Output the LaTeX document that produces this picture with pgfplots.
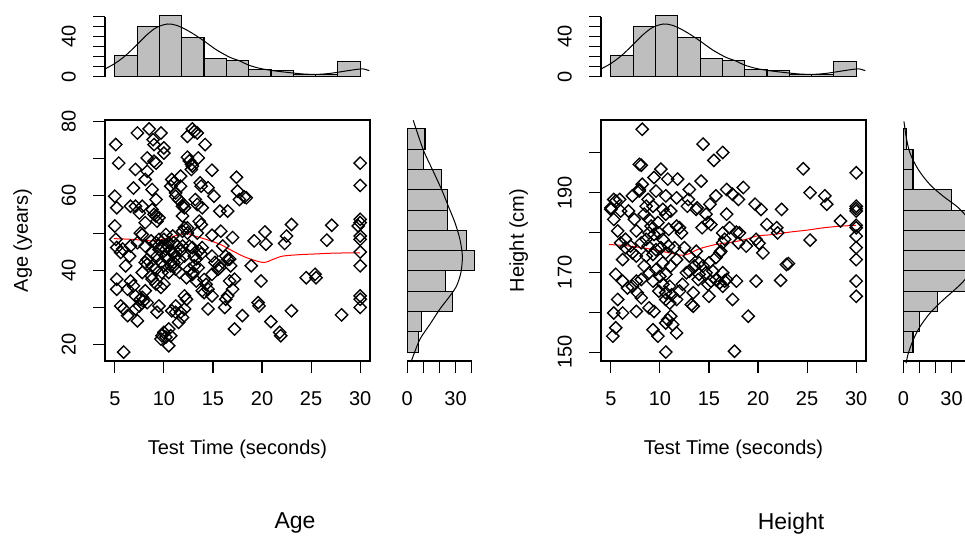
\documentclass[border=0pt]{standalone}
\usepackage{fontspec}
\setmainfont{Liberation Sans}
\usepackage{pgfplots}
\usepackage{pgfplotstable}
\pgfplotsset{compat=1.18}
\definecolor{histgrey}{HTML}{BEBEBE}

\pgfplotsset{
  rbase/.style={scale only axis, clip=false, tick align=outside, major tick length=12pt,
    axis line style={-, line width=1.1pt}, tick style={black, line width=1.1pt},
    tick label style={font=\fontsize{20}{24}\selectfont, inner sep=0pt},
    /pgf/number format/assume math mode=true,
    xticklabel style={anchor=north}, xticklabel shift=18.5pt,
    yticklabel style={rotate=90, anchor=south}, yticklabel shift=17pt,
    label style={font=\fontsize{20}{24}\selectfont}},
  noarrow/.style={tick align=outside,
    every outer x axis line/.append style={-}, every outer y axis line/.append style={-},
    x axis line style={-}, y axis line style={-}},
  hist/.style={fill=histgrey, draw=black, line width=1.1pt},
  dens/.style={black, line width=1pt, smooth},
  dots/.style={only marks, black, mark=square, mark size=4.35pt,
    mark options={rotate=45, line width=1.35pt}},
}

% test time histogram (11 bins, 5 to 30)
\pgfplotstableread{
lo cnt
5.0000 21
7.2727 50
9.5455 61
11.8182 39
14.0909 18
16.3636 16
18.6364 7
20.9091 6
23.1818 2
25.4545 2
27.7273 15
30.0000 15
}\timehist

\pgfplotstableread{
x y
4.00 7.7
5.02 13.3
6.04 20.7
7.23 31.7
8.25 41.7
9.26 49.3
10.38 52.7
11.30 51.3
12.32 46.7
13.34 40.7
14.19 35.0
15.38 26.7
16.74 19.3
17.75 15.7
18.60 11.7
19.79 8.3
21.15 6.0
22.85 4.0
24.20 2.7
25.57 2.3
26.92 3.3
28.28 5.3
29.64 7.3
30.32 7.7
30.93 6.0
}\timedens

\begin{document}
\begin{tikzpicture}
\useasboundingbox (0,0) rectangle (965pt,535pt);
\clip (0,0) rectangle (965pt,535pt);

% ---------- Age panel ----------
\begin{axis}[rbase, at={(105pt,174pt)}, anchor=south west, width=265pt, height=241pt,
  xmin=4, xmax=31, ymin=15.6, ymax=80.4,
  xtick={5,10,...,30}, ytick={20,30,...,80}, yticklabels={20,,40,,60,,80},
  xtick pos=bottom, ytick pos=left,
  xlabel={Test Time (seconds)}, xlabel style={at={(axis description cs:0.5,-0.368)}, anchor=center},
  ylabel={Age (years)}, ylabel style={at={(axis description cs:-0.311,0.5)}, anchor=center}]
\addplot[dots] coordinates {
(30,68.8) (30,62.8) (30,53.7) (30,52.8) (29.8,51.9) (30,49.2) (30,48.3) (30,44.9) (30,41.2) (30,33.1) (30,32.2) (30,30.0)
(28.1,28.0) (26.6,48.1) (27.1,52.1)
(23.0,52.3) (22.5,49.2) (22.3,47.2) (23.0,29.1) (21.8,23.3) (21.9,22.4) (20.9,26.2) (20.3,50.3) (20.4,47.0) (19.9,37.1) (19.2,47.9) (19.6,31.3) (19.7,30.4) (18.9,41.2)
(24.5,38.0) (25.4,38.9) (25.5,38.0)
(18.4,59.5) (18.2,59.7) (17.7,59.0) (17.4,65) (17.5,61.3) (17.2,24.2) (18.0,27.8) (17.0,34.9) (16.7,37.1) (16.7,43.0) (16.8,41.2) (16.5,33.1) (16.3,32.2) (16.2,30.0) (17.0,48.8) (16.0,46.5) (15.8,50.5) (15.7,55.9) (16.5,55.9) (15.7,40.7) (15.5,40.2) (14.9,66.9) (15.1,59.9) (14.9,49.4) (14.9,33.1) (14.5,29.6) (14.9,38.9) (14.3,36.2) (14.5,34.9) (14.1,34.0) (14.1,37.5) (13.9,34.5) (13.8,44.4) (13.7,63.5) (13.8,62.6) (14.5,62.2) (13.8,52.3) (13.6,53.2) (13.9,56.8) (13.4,57.7) (13.5,70.2) (14.2,73.8) (13.2,59.0) (13.1,41.2) (12.9,46.1) (13.1,43.8) (12.9,38.9) (12.6,40.2) (12.6,46.5) (12.4,50.0) (12.4,51.4) (12.1,51.4) (13.4,50.0) (12.3,38.0) (12.1,29.6) (12.6,69.4) (12.8,68.5) (12.9,68.0) (12.9,78.0) (13.1,77.3) (13.4,76.9) (12.4,76.0) (12.4,70.4) (12.8,67.1)
(11.7,65.3) (11.9,57.2) (12.0,57.7) (11.5,59.0) (11.2,60.8) (11.7,62.6) (11.0,63.5) (10.8,64.4) (10.7,62.6) (11.2,59.9) (12.1,56.8) (11.9,54.6) (12.1,33.1) (12.3,32.2) (11.7,28.7) (11.9,27.3) (11.2,30.4) (11.2,28.7) (11.5,26.0) (10.8,29.1) (10.7,22.4) (10.5,19.7) (10.2,22.0) (9.7,21.5) (9.8,22.4) (10.0,23.3) (10.5,24.2)
(9.5,48.3) (9.8,46.5) (10.2,45.6) (10.5,47.4) (10.9,44.7) (11.2,43.8) (10.4,42.9) (10.0,41.2) (9.7,42.1) (10.7,41.2) (11.0,42.1) (11.6,42.9) (11.9,46.5) (10.2,49.6) (10.9,49.2) (9.2,47.4) (8.8,44.7) (9.8,39.4) (10.5,39.4) (11.2,40.3) (11.6,39.4) (9.3,43.8) (10.2,43.8) (10.7,45.2) (11.7,45.2) (11.4,46.5) (12.1,43.8) (9.5,45.6) (10.4,46.5) (10.0,48.3) (11.0,47.4) (11.9,50.5) (8.8,41.2) (9.2,40.3) (8.3,42.9) (8.1,46.5) (8.7,47.9)
(5.1,73.8) (5.4,68.8) (5.0,59.9) (5.2,56.8) (5.0,51.9) (5.1,48.3) (5.2,46.1) (5.8,45.7) (5.6,44.8) (5.2,37.6) (5.2,34.9) (6.3,34.9) (5.9,18.0) (5.6,30.4) (5.9,29.6) (6.3,27.8) (6.9,35.8) (6.6,37.1) (6.1,41.2) (6.5,43.8) (6.6,46.5) (7.3,76.9) (7.1,67.1) (6.9,62.1) (6.6,57.2) (7.1,57.2) (7.3,26.4) (7.6,32.2) (7.8,32.7) (7.9,31.7) (8.3,31.3) (7.5,30.4) (7.1,29.6) (8.5,78.0) (8.9,75.1) (9.0,73.8) (8.3,70.2) (9.0,69.3) (9.2,68.8) (8.3,66.6) (8.1,64.4) (8.8,61.7) (9.2,59.0) (7.8,57.2) (7.5,55.4) (8.8,56.3) (9.0,55.0) (9.2,54.6) (9.5,54.1) (9.3,53.2) (8.1,52.8) (7.6,50.0) (7.8,49.6) (7.3,47.4) (8.1,42.1) (8.3,41.6) (8.7,38.5) (8.8,37.6) (7.8,39.4) (7.1,33.1) (8.1,34.5) (9.2,36.3) (9.7,35.4) (10.0,36.3) (9.5,30.4) (9.3,28.7) (10.0,71.5) (9.7,76.9) (10.0,72.9)
(14.9,43.8) (15.2,42.1) (15.6,41.2) (16.3,43.8) (16.5,42.9) (17.2,37.6) (13.6,45.2) (13.9,46.1) (13.3,43.0) (13.5,40.7) (13.0,39.4) (13.3,37.1)
};
\addplot[red, line width=1pt, smooth] coordinates {
(4.9,48.5) (6.8,48.3) (8.8,47.9) (10.2,48.5) (11.6,49.6) (12.4,49.9) (12.9,49.4) (14.3,48.3) (15.7,47.0) (17.0,45.2) (18.4,43.4) (20.1,42.1) (21.1,42.9) (22.1,43.8) (23.9,44.2) (25.6,44.4) (27.3,44.6) (30.0,44.7)
};
\end{axis}

\begin{axis}[rbase, at={(105pt,458.3pt)}, anchor=south west, width=265pt, height=60pt,
  xmin=4, xmax=31, ymin=0, ymax=60, axis x line=none, axis y line=left, noarrow,
  ytick={0,10,...,60}, yticklabels={0,,,,40,,}]
\addplot[hist, ybar interval] table[x=lo, y=cnt] {\timehist};
\addplot[dens] table[x=x, y=y] {\timedens};
\end{axis}

\begin{axis}[rbase, at={(407.3pt,174pt)}, anchor=south west, width=64.4pt, height=241pt,
  xmin=0, xmax=40, ymin=15.6, ymax=80.4, axis y line=none, axis x line=bottom, noarrow,
  xtick={0,10,...,40}, xticklabels={0,,,30,}]
\addplot[hist, xbar interval] coordinates {
(7,18) (9,23.4545) (28,28.9091) (24,34.3636) (42,39.8182) (37,45.2727) (25,50.7273) (25,56.1818) (21,61.6364) (10,67.0909) (11,72.5455) (11,78)
};
\addplot[dens] coordinates {
(2.3,15.3) (3.7,17.0) (7.9,21.5) (14.1,25.5) (20.3,29.6) (26.5,33.1) (30.6,35.8) (33.3,39.4) (34.2,43.8) (32.7,48.3) (29.6,52.8) (25.5,57.2) (21.3,61.7) (16.1,66.6) (9.9,72.4) (3.7,80.3)
};
\end{axis}

% ---------- Height panel ----------
\begin{axis}[rbase, at={(601pt,174pt)}, anchor=south west, width=265pt, height=241pt,
  xmin=4, xmax=31, ymin=147.76, ymax=208.24,
  xtick={5,10,...,30}, ytick={150,160,...,200}, yticklabels={150,,170,,190,},
  xtick pos=bottom, ytick pos=left,
  xlabel={Test Time (seconds)}, xlabel style={at={(axis description cs:0.5,-0.368)}, anchor=center},
  ylabel={Height (cm)}, ylabel style={at={(axis description cs:-0.311,0.5)}, anchor=center}]
\addplot[dots] coordinates {
(30,195.0) (30,186.6) (30,186.0) (30,185.4) (30,181.8) (30,181.2) (30,179.1) (30,176.2) (30,173.2) (30,167.8) (30,164.0)
(28.4,182.9) (27.0,187.1) (26.8,189.2) (25.3,190.0) (24.6,196.0) (25.3,178.1)
(23.1,172.2) (22.9,172.0) (22.3,168.0) (22.4,185.8) (21.9,181.2) (22.0,179.9) (20.9,182.0) (20.5,174.9) (19.8,178.3) (20.1,177.3) (20.3,185.8) (19.7,187.1) (19.8,167.8) (19.0,159.0) (18.5,191.3) (18.0,188.3) (17.4,189.6) (16.8,190.8) (16.4,200.1) (15.5,198.1) (14.4,202.2) (15.7,189.2) (15.1,187.1) (15.2,182.0) (14.3,181.2) (13.8,186.2) (13.0,190.8) (14.2,192.9) (11.8,193.4)
(16.8,184.6) (17.1,181.2) (16.4,179.9) (16.6,178.3) (17.8,180.1) (18.1,179.9) (16.1,174.9) (16.2,175.3) (15.7,173.7) (16.4,169.9) (16.6,167.8) (16.8,168.2) (17.8,167.8) (17.4,163.2) (17.6,150.2)
(15.0,172.4) (15.4,170.3) (14.7,169.9) (14.9,167.0) (15.0,164.0) (14.4,171.6) (14.0,172.4) (13.9,168.2) (13.4,164.9) (13.2,161.9) (13.4,161.5) (13.7,175.3) (13.0,174.1) (12.7,169.9) (12.3,167.0) (12.0,165.3) (11.7,163.2) (12.0,181.2) (12.2,179.9) (11.7,181.6) (11.5,176.2) (12.5,176.2) (11.7,173.2) (12.8,186.6) (12.9,188.3)
(7.9,197.1) (8.1,196.9) (10.1,195.9) (9.4,193.8) (10.8,193.4) (7.9,190.4) (9.6,190.4) (10.6,189.2) (11.7,188.7) (8.8,188.3) (8.6,186.6) (9.3,186.6) (10.3,185.8) (10.6,184.6) (11.1,185.4) (8.4,184.6) (8.9,183.3) (9.8,182.5) (9.1,181.6) (8.9,179.9) (9.4,179.5) (9.9,179.9) (10.9,180.8) (10.3,178.3) (8.6,178.3) (8.1,177.4) (8.8,176.6) (9.6,175.7) (10.1,176.2) (10.9,176.6) (10.6,174.9) (9.3,174.5) (8.6,174.1) (8.4,171.6) (9.6,170.7) (10.3,172.4) (11.1,171.6) (8.9,169.9) (10.0,169.0) (10.6,169.5) (9.3,167.8) (10.3,167.0) (11.0,166.5) (9.9,165.3) (10.6,164.9) (11.2,164.4) (10.6,163.2) (11.0,162.3) (11.1,159.0) (10.8,158.1) (10.6,157.3) (11.3,156.9) (11.7,154.8) (10.6,150.0) (9.3,155.6) (9.8,154.0) (8.9,161.1) (9.4,160.2)
(5.0,186.2) (5.0,185.8) (5.3,188.3) (5.5,187.9) (5.9,188.3) (6.0,185.4) (5.3,183.3) (5.7,180.4) (6.5,178.3) (7.4,183.3) (7.6,180.4) (7.0,176.6) (7.2,174.9) (7.6,174.1) (6.2,173.2) (5.5,169.5) (6.2,167.8) (6.7,166.1) (7.2,166.5) (7.6,167.8) (8.1,168.2) (7.7,164.9) (8.1,163.6) (5.7,163.2) (5.3,159.8) (6.2,159.8) (7.6,160.2) (5.5,156.1) (5.2,154.0) (6.5,176.2) (6.0,177.4) (6.8,185.4) (7.2,189.2) (7.9,190.8) (8.2,192.1) (8.2,205.9)
(13.7,185.8) (14.7,184.6) (14.9,182.5) (16.4,177.4) (18.0,177.4) (18.8,176.6) (13.0,170.3) (13.5,171.6) (14.0,169.5) (15.2,167.8) (15.7,168.2) (16.1,167.4) (16.4,166.5)
};
\addplot[red, line width=1pt, smooth] coordinates {
(4.83,177.0) (6.9,176.6) (8.9,175.9) (10.6,175.1) (11.7,174.5) (12.3,174.3) (13.0,174.7) (14.0,175.9) (15.7,177.0) (17.4,177.6) (18.8,178.3) (19.8,179.1) (21.5,179.5) (23.2,180.1) (25.0,180.6) (26.7,181.2) (28.4,181.6) (30.0,181.8)
};
\end{axis}

\begin{axis}[rbase, at={(601pt,458.3pt)}, anchor=south west, width=265pt, height=60pt,
  xmin=4, xmax=31, ymin=0, ymax=60, axis x line=none, axis y line=left, noarrow,
  ytick={0,10,...,60}, yticklabels={0,,,,40,,}]
\addplot[hist, ybar interval] table[x=lo, y=cnt] {\timehist};
\addplot[dens] table[x=x, y=y] {\timedens};
\end{axis}

\begin{axis}[rbase, at={(903.3pt,174pt)}, anchor=south west, width=64.4pt, height=241pt,
  xmin=0, xmax=40, ymin=147.76, ymax=208.24, axis y line=none, axis x line=bottom, noarrow,
  xtick={0,10,...,40}, xticklabels={0,,,30,}]
\addplot[hist, xbar interval] coordinates {
(6,150) (10,155.09) (21,160.18) (39,165.27) (39,170.36) (40,175.45) (39,180.55) (30,185.64) (6,190.73) (6,195.82) (2,200.91) (2,206)
};
\addplot[dens] coordinates {
(1.7,147.2) (3.1,149.7) (6.2,153.1) (10.4,156.4) (16.6,159.8) (24.8,163.1) (32.1,165.7) (38.3,168.2) (43,171.5) (46,175.5) (45,179.5) (42,182.5) (38.3,184.5) (33.1,186.6) (24.8,189.1) (16.6,192.0) (9.3,195.8) (4.1,200.0) (1.7,204.2) (0.4,207.9)
};
\end{axis}

\node[font=\fontsize{23}{28}\selectfont] at (295pt,11.7pt) {Age};
\node[font=\fontsize{23}{28}\selectfont] at (791pt,11.7pt) {Height};
\end{tikzpicture}
\end{document}
